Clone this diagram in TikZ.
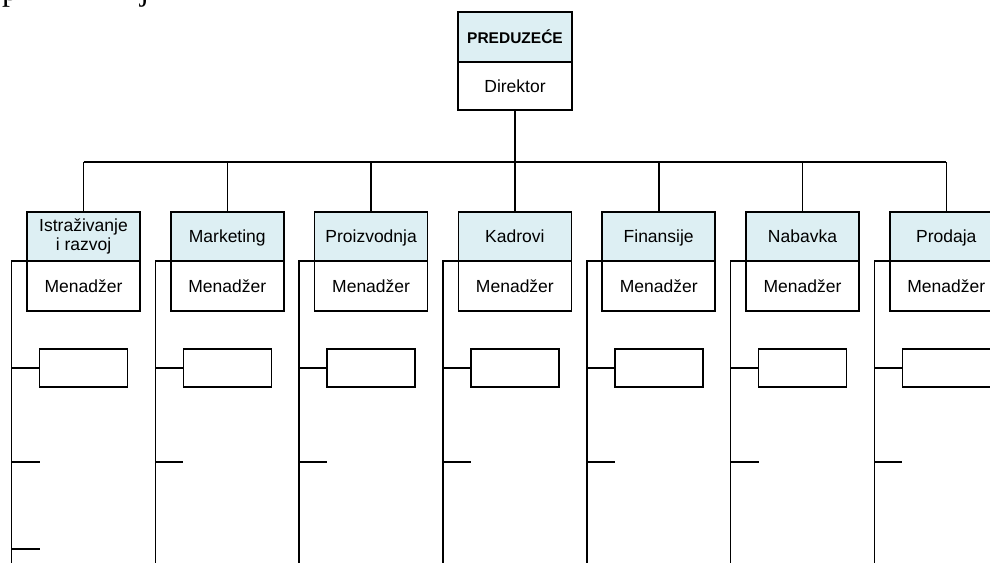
\documentclass[tikz,border=0pt]{standalone}
\usepackage{fontspec}
\setmainfont{Liberation Sans}
\newfontfamily\serifface{Liberation Serif}
\definecolor{headfill}{RGB}{221,239,243}
\newcommand\topstrut{\rule{0pt}{16pt}}
\newcommand\botstrut{\rule[-3.5pt]{0pt}{3.5pt}}
\begin{document}
\begin{tikzpicture}[x=1pt,y=-1pt,
  box/.style={draw=black, line width=1.6pt, minimum width=113pt, inner sep=0pt, outer sep=0pt,
    align=center, font=\fontsize{17.5}{19}\selectfont,
    execute at begin node=\topstrut, execute at end node=\botstrut},
  head/.style={box, fill=headfill, minimum height=49pt},
  mgr/.style={box, fill=white, minimum height=50pt},
  unit/.style={draw=black, line width=1.6pt, minimum width=88pt, minimum height=38pt,
    inner sep=0pt, outer sep=0pt},
  link/.style={draw=black, line width=1.6pt},
  tick/.style={draw=black, line width=1.3pt},
  frag/.style={anchor=base west, inner sep=0pt, font=\serifface\fontsize{32}{34}\selectfont}]

\useasboundingbox (0,0) rectangle (990,562);
\clip (0,0) rectangle (990,562);

% reference levels
\coordinate (bar) at (0,162);
\coordinate (stubA) at (0,462);
\coordinate (stubB) at (0,549);
\coordinate (bottom) at (0,565);

% descenders of the text line running above
\node[frag] (pfrag) at (2,0) {p};
\node[frag] (jfrag) at (140,0) {j};

% company box
\node[head, minimum width=114pt, minimum height=50pt, anchor=north,
  font=\fontsize{15.5}{18}\selectfont\bfseries] (firm) at (515,12) {PREDUZEĆE};
\node[mgr, minimum width=114pt, minimum height=48pt, anchor=north] (dir) at (firm.south) {Direktor};

% departments
\foreach \dept [count=\i] in {{Istraživanje\\i razvoj},Marketing,Proizvodnja,Kadrovi,Finansije,Nabavka,Prodaja}{
  \pgfmathsetmacro\cx{83.5+143.8*(\i-1)}
  \node[head, anchor=north] (d\i) at (\cx,212) {\dept};
  \node[mgr, anchor=north] (m\i) at (d\i.south) {Menadžer};
  \node[unit] (u\i) at (\cx,368) {};
  \path (d\i.south west) ++(-15.5,0) coordinate (sp\i);
  \path (u\i.west |- stubA) coordinate (st\i);
  \draw[link] (d\i.north) -- (d\i.north |- bar);
  \draw[link] (d\i.south west) -- (sp\i) -- (sp\i |- bottom);
  \draw[link] (u\i.west) -- (u\i.west -| sp\i);
  \draw[tick] (sp\i |- stubA) -- (st\i);
}
\path (u1.west |- stubB) coordinate (st0);
\draw[tick] (sp1 |- stubB) -- (st0);

% main connectors
\draw[link] (dir.south) -- (dir.south |- bar);
\draw[link] (d1.north |- bar) -- (d7.north |- bar);
\end{tikzpicture}
\end{document}
